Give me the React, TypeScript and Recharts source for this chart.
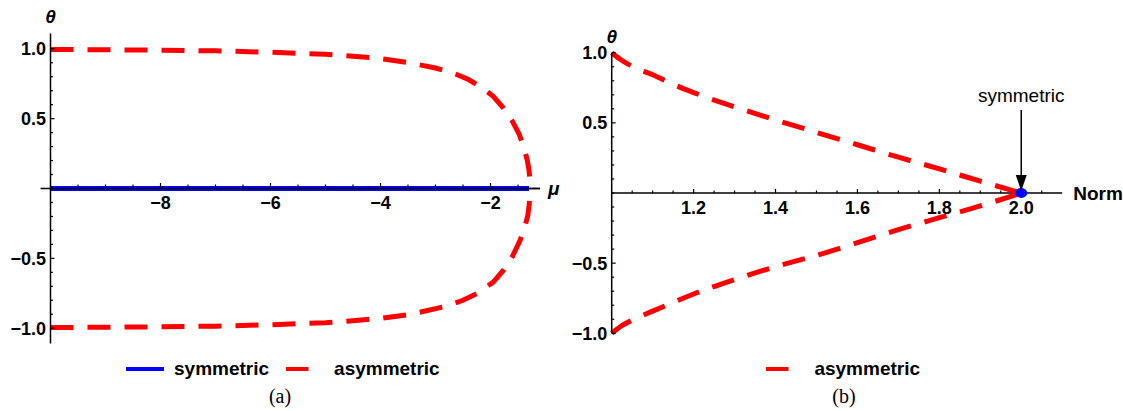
import React from 'react'
import {
  ComposedChart, Line, Scatter, XAxis, YAxis, ReferenceLine, ReferenceDot, Legend
} from 'recharts'

// panel (a): theta against mu
const muUpperA = [-10, -9, -8, -7, -6, -5, -4.5, -4, -3.5, -3, -2.7, -2.4, -2.15, -1.95, -1.76, -1.6, -1.48, -1.39, -1.33, -1.3, -1.285, -1.278]
const thetaUpperA = [0.995, 0.993, 0.99, 0.985, 0.975, 0.96, 0.947, 0.93, 0.902, 0.862, 0.83, 0.78, 0.72, 0.66, 0.574, 0.48, 0.39, 0.29, 0.2, 0.13, 0.07, 0]
const muLowerA = [-10, -9, -8, -7, -6, -5, -4.5, -4, -3.5, -2.84, -2.5, -2.24, -1.95, -1.76, -1.6, -1.46, -1.38, -1.32, -1.295, -1.283, -1.278]
const thetaLowerA = [-0.995, -0.993, -0.99, -0.985, -0.975, -0.96, -0.946, -0.93, -0.904, -0.846, -0.8, -0.75, -0.67, -0.583, -0.485, -0.369, -0.28, -0.19, -0.11, -0.05, 0]
const muSymA = [-10, -1.3]
const thetaSymA = [0, 0]
const muAxisA = [-10, -1.1]

// panel (b): theta against norm
const normB = [1, 1.02, 1.05, 1.1, 1.15, 1.2, 1.3, 1.4, 1.5, 1.6, 1.7, 1.8, 1.9, 2]
const thetaUpperB = [1, 0.955, 0.902, 0.843, 0.775, 0.716, 0.614, 0.521, 0.432, 0.344, 0.255, 0.172, 0.084, 0]
const thetaLowerB = [-1, -0.955, -0.906, -0.842, -0.78, -0.72, -0.617, -0.525, -0.445, -0.354, -0.261, -0.176, -0.092, 0]
const normSymB = [2]
const thetaSymB = [0]

// ticks
const xMajorA = [-8, -6, -4, -2]
const xLabelsA = ['−8', '−6', '−4', '−2']
const yMajor = [-1, -0.5, 0.5, 1]
const yLabels = ['−1.0', '−0.5', '0.5', '1.0']
const xMajorB = [1.2, 1.4, 1.6, 1.8, 2.0]
const xLabelsB = ['1.2', '1.4', '1.6', '1.8', '2.0']
const legendOrder = ['symmetric', 'asymmetric']

const range = (a: number, b: number, step: number) => {
  const out: number[] = []
  for (let i = 0; a + i * step <= b + 1e-9; i++) out.push(+(a + i * step).toFixed(4))
  return out
}
const isIn = (v: number, arr: number[]) => arr.some(m => Math.abs(m - v) < 1e-6)
const xMinorA = range(-9.5, -1.5, 0.5).filter(v => !isIn(v, xMajorA))
const xMinorB = range(1.05, 2.05, 0.05).filter(v => !isIn(v, xMajorB))
const yTicks = range(-1, 1, 0.1)

const zip = (xs: number[], ys: number[]) => xs.map((x, i) => ({ x, y: ys[i] }))

const SANS = '"Liberation Sans", Arial, sans-serif'
const tickFont = { fontFamily: SANS, fontSize: 18, fontWeight: 'bold' as const, fill: '#000' }

const yTick = (p: any) => {
  const v = p.payload.value
  const i = yMajor.findIndex(m => Math.abs(m - v) < 1e-6)
  return (
    <g>
      <line x1={p.x} y1={p.y} x2={p.x + (i >= 0 ? 4 : 2.5)} y2={p.y} stroke="#000" strokeWidth={1.2} />
      {i >= 0 && (
        <text x={p.x - 4.5} y={p.y} dy="0.36em" textAnchor="end" style={tickFont}>{yLabels[i]}</text>
      )}
    </g>
  )
}

const xTick = (label?: string, dy = 20, len = 4) => (p: any) => (
  <g>
    <line x1={p.cx} y1={p.cy} x2={p.cx} y2={p.cy - (label ? len : len - 1.5)} stroke="#000" strokeWidth={1.2} />
    {label && <text x={p.cx} y={p.cy + dy} textAnchor="middle" style={tickFont}>{label}</text>}
  </g>
)

const thetaLabel = ({ viewBox }: any) => (
  <text x={viewBox.x + viewBox.width} y={viewBox.y - 10} textAnchor="middle"
    style={{ fontFamily: SANS, fontSize: 19, fontWeight: 'bold', fontStyle: 'italic', fill: '#000' }}>θ</text>
)

const renderLegend = (props: any) => {
  const items = (props.payload || [])
    .filter((e: any) => e.type !== 'none' && legendOrder.includes(e.value))
    .sort((a: any, b: any) => legendOrder.indexOf(a.value) - legendOrder.indexOf(b.value))
  return (
    <div style={{ display: 'flex', alignItems: 'center', fontFamily: SANS, fontSize: 19, fontWeight: 'bold', whiteSpace: 'nowrap' }}>
      {items.map((e: any, i: number) => {
        const dashed = !!e.payload?.strokeDasharray
        return (
          <div key={i} style={{ display: 'flex', alignItems: 'center', marginRight: 17 }}>
            <svg width={38} height={10} style={{ marginRight: 10 }}>
              <line x1={0} y1={5} x2={dashed ? 22.5 : 38} y2={5} stroke={e.color} strokeWidth={4} />
            </svg>
            <span>{e.value}</span>
          </div>
        )
      })}
    </div>
  )
}

const arrowShape = (p: any) => (
  <g>
    <text x={p.cx} y={p.cy - 91} textAnchor="middle"
      style={{ fontFamily: SANS, fontSize: 19, fill: '#000' }}>symmetric</text>
    <line x1={p.cx} y1={p.cy - 83} x2={p.cx} y2={p.cy - 16} stroke="#000" strokeWidth={1.5} />
    <polygon points={`${p.cx - 5.5},${p.cy - 18} ${p.cx + 5.5},${p.cy - 18} ${p.cx},${p.cy - 2}`} fill="#000" />
  </g>
)

const dotShape = (p: any) => <ellipse cx={p.cx} cy={p.cy} rx={6} ry={5} fill="#0000ff" />

const caption: React.CSSProperties = {
  position: 'absolute', top: 385, width: 60, textAlign: 'center',
  fontFamily: '"Liberation Serif", "Times New Roman", serif', fontSize: 20, lineHeight: '22px'
}

function PanelA() {
  return (
    <ComposedChart width={560} height={411} margin={{ top: 33.4, right: 20, bottom: 67.4, left: 0 }}>
      <XAxis dataKey="x" type="number" domain={[-10, -1.1]} hide />
      <YAxis type="number" domain={[-1.11, 1.11]} ticks={yTicks} interval={0} width={50.5}
        tick={yTick} tickLine={false} tickSize={0} tickMargin={0}
        axisLine={{ stroke: '#000', strokeWidth: 1.5 }} label={thetaLabel} />
      <ReferenceLine segment={[{ x: -10.18, y: 0 }, { x: -1.1, y: 0 }]} ifOverflow="visible"
        stroke="#000" strokeWidth={1.5}
        label={{ value: 'μ', position: 'right', offset: 8, fontFamily: SANS, fontSize: 19, fontWeight: 'bold', fontStyle: 'italic', fill: '#000' }} />
      {xMinorA.map(v => <ReferenceDot key={'m' + v} x={v} y={0} r={0} shape={xTick(undefined, 20, 5.5)} />)}
      {xMajorA.map((v, i) => <ReferenceDot key={'M' + v} x={v} y={0} r={0} shape={xTick(xLabelsA[i], 20, 5.5)} />)}
      <Line data={zip(muSymA, thetaSymA)} dataKey="y" name="symmetric" stroke="#0000ff"
        strokeWidth={5} dot={false} activeDot={false} isAnimationActive={false} />
      {/* axis line redrawn over the blue branch */}
      <Line data={zip(muAxisA, [0, 0])} dataKey="y" name="axis" legendType="none" stroke="#000"
        strokeWidth={1.5} dot={false} activeDot={false} isAnimationActive={false} />
      <Line data={zip(muUpperA, thetaUpperA)} dataKey="y" name="asymmetric" stroke="#ff0000"
        strokeWidth={5} strokeDasharray="23 14" dot={false} activeDot={false} isAnimationActive={false} />
      <Line data={zip(muLowerA, thetaLowerA)} dataKey="y" name="asymmetric " legendType="none" stroke="#ff0000"
        strokeWidth={5} strokeDasharray="23 14" dot={false} activeDot={false} isAnimationActive={false} />
      <Legend layout="horizontal" verticalAlign="middle" align="center" content={renderLegend}
        wrapperStyle={{ left: 126, top: 357.5, width: 'auto', height: 'auto' }} />
    </ComposedChart>
  )
}

function PanelB() {
  return (
    <ComposedChart width={563} height={411} margin={{ top: 52.7, right: 60.8, bottom: 77.7, left: 0 }}>
      <XAxis dataKey="x" type="number" domain={[1, 2.1]} hide />
      <YAxis type="number" domain={[-1, 1]} ticks={yTicks} interval={0} width={51.7}
        tick={yTick} tickLine={false} tickSize={0} tickMargin={0}
        axisLine={{ stroke: '#000', strokeWidth: 1.5 }} label={thetaLabel} />
      <ReferenceLine segment={[{ x: 1, y: 0 }, { x: 2.1, y: 0 }]} ifOverflow="visible"
        stroke="#000" strokeWidth={1.5}
        label={{ value: 'Norm', position: 'right', offset: 11, fontFamily: SANS, fontSize: 19, fontWeight: 'bold', fill: '#000' }} />
      {xMinorB.map(v => <ReferenceDot key={'m' + v} x={v} y={0} r={0} shape={xTick()} />)}
      {xMajorB.map((v, i) => <ReferenceDot key={'M' + v} x={v} y={0} r={0} shape={xTick(xLabelsB[i], 21)} />)}
      <Line type="monotone" data={zip(normB, thetaUpperB)} dataKey="y" name="asymmetric" stroke="#ff0000"
        strokeWidth={5} strokeDasharray="23 14" dot={false} activeDot={false} isAnimationActive={false} />
      <Line type="monotone" data={zip(normB, thetaLowerB)} dataKey="y" name="asymmetric " legendType="none" stroke="#ff0000"
        strokeWidth={5} strokeDasharray="23 14" dot={false} activeDot={false} isAnimationActive={false} />
      <Scatter data={zip(normSymB, thetaSymB)} dataKey="y" name="symmetric" legendType="none"
        shape={dotShape} isAnimationActive={false} />
      <ReferenceDot x={2} y={0} r={0} shape={arrowShape} />
      <Legend layout="horizontal" verticalAlign="middle" align="center" content={renderLegend}
        wrapperStyle={{ left: 206.4, top: 357.5, width: 'auto', height: 'auto' }} />
    </ComposedChart>
  )
}

export default function App() {
  return (
    <div style={{ position: 'absolute', left: 0, top: 0, width: 1123, height: 411, background: '#fff' }}>
      <div style={{ position: 'absolute', left: 0, top: 0 }}><PanelA /></div>
      <div style={{ position: 'absolute', left: 560, top: 0 }}><PanelB /></div>
      <div style={{ ...caption, left: 250 }}>(a)</div>
      <div style={{ ...caption, left: 814 }}>(b)</div>
    </div>
  )
}
